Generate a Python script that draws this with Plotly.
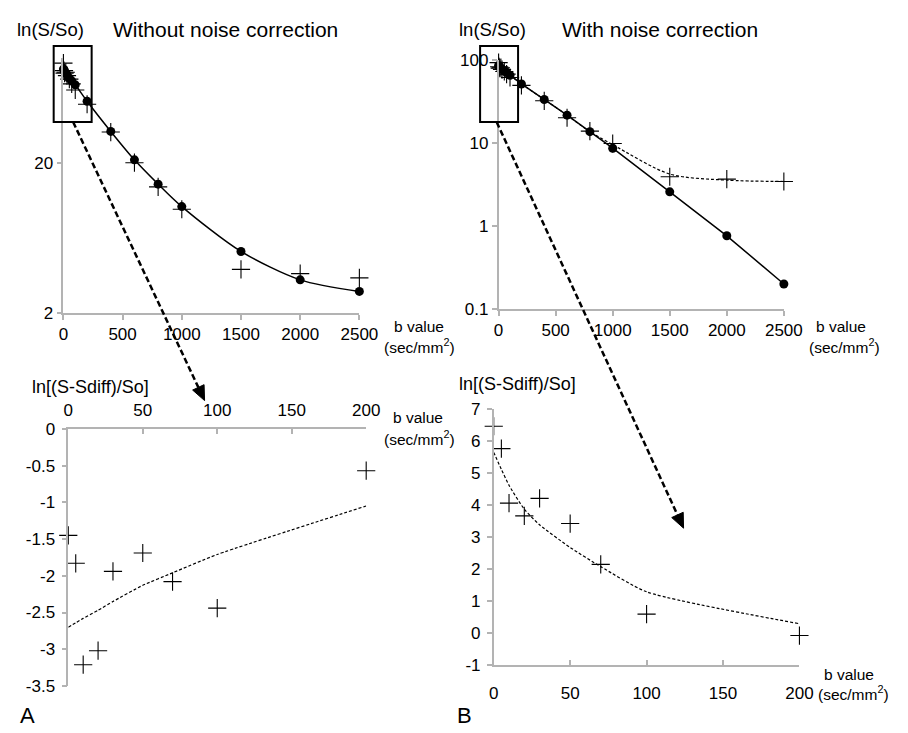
import numpy as np
import plotly.graph_objects as go

W, H = 908, 733

# ---------------- data ----------------
b_top = [0, 5, 10, 20, 30, 50, 70, 100, 200, 400, 600, 800, 1000, 1500, 2000, 2500]
fit_uncorrected = [84, 83, 81, 79, 77, 73, 70, 66, 51.3, 32.3, 20.9, 14.4, 10.2, 5.13, 3.32, 2.78]
fit_corrected = [85, 83, 81, 79, 77, 73, 70, 65, 51, 33.2, 21.5, 13.6, 8.6, 2.57, 0.76, 0.2]
raw_signal = [92, 82, 79, 80, 76, 72, 67, 61, 49, 32, 20, 13.8, 9.8, 3.9, 3.65, 3.42]
fit_noise_model = [85, 83, 81, 79, 77, 73, 70, 65, 51, 33.2, 21.5, 13.6, 9.5, 4.2, 3.55, 3.42]

b_low = [0, 5, 10, 20, 30, 50, 70, 100, 200]
resid_uncorr = [-1.45, -1.83, -3.21, -3.02, -1.94, -1.69, -2.08, -2.44, -0.57]
resid_uncorr_fit = [-2.70, -2.64, -2.58, -2.47, -2.35, -2.13, -1.96, -1.71, -1.05]
resid_corr = [6.47, 5.77, 4.06, 3.66, 4.21, 3.42, 2.14, 0.58, -0.09]
resid_corr_fit = [5.65, 5.12, 4.62, 3.87, 3.38, 2.67, 2.07, 1.28, 0.28]

top_xticks = [0, 500, 1000, 1500, 2000, 2500]
tl_yticks = [2, 20]
tr_yticks = [0.1, 1, 10, 100]
bl_yticks = [0, -0.5, -1, -1.5, -2, -2.5, -3, -3.5]
br_yticks = [-1, 0, 1, 2, 3, 4, 5, 6, 7]
low_xticks = [0, 50, 100, 150, 200]

FONT = "Liberation Sans, Arial, Helvetica, sans-serif"
AX = "#b3b3b3"


def px(x):
    return x / W


def py(y):
    return 1 - y / H


def fmt(v):
    return "%g" % v


fig = go.Figure()

cross = dict(symbol="cross-thin", size=13, color="black", line=dict(width=1.1, color="black"))
dot = dict(symbol="circle", size=9, color="black")

# top-left
fig.add_trace(go.Scatter(x=b_top, y=raw_signal, mode="markers", marker=cross,
                         xaxis="x", yaxis="y", cliponaxis=False))
fig.add_trace(go.Scatter(x=b_top, y=fit_uncorrected, mode="lines+markers", marker=dot,
                         line=dict(color="black", width=1.5, shape="spline", smoothing=0.8),
                         xaxis="x", yaxis="y", cliponaxis=False))
# top-right
fig.add_trace(go.Scatter(x=b_top, y=fit_noise_model, mode="lines",
                         line=dict(color="black", width=1.2, dash="3px,2px", shape="spline", smoothing=0.8),
                         xaxis="x2", yaxis="y2", cliponaxis=False))
fig.add_trace(go.Scatter(x=b_top, y=raw_signal, mode="markers", marker=cross,
                         xaxis="x2", yaxis="y2", cliponaxis=False))
fig.add_trace(go.Scatter(x=b_top, y=fit_corrected, mode="lines+markers", marker=dot,
                         line=dict(color="black", width=1.5),
                         xaxis="x2", yaxis="y2", cliponaxis=False))
# bottom-left
fig.add_trace(go.Scatter(x=b_low, y=resid_uncorr_fit, mode="lines",
                         line=dict(color="black", width=1.2, dash="3px,2px", shape="spline", smoothing=0.5),
                         xaxis="x3", yaxis="y3", cliponaxis=False))
fig.add_trace(go.Scatter(x=b_low, y=resid_uncorr, mode="markers", marker=cross,
                         xaxis="x3", yaxis="y3", cliponaxis=False))
# bottom-right
fig.add_trace(go.Scatter(x=b_low, y=resid_corr_fit, mode="lines",
                         line=dict(color="black", width=1.2, dash="3px,2px", shape="spline", smoothing=0.6),
                         xaxis="x4", yaxis="y4", cliponaxis=False))
fig.add_trace(go.Scatter(x=b_low, y=resid_corr, mode="markers", marker=cross,
                         xaxis="x4", yaxis="y4", cliponaxis=False))

base = dict(showline=True, linecolor=AX, linewidth=1.5, ticks="outside", ticklen=5,
            tickcolor=AX, tickwidth=1.5, showgrid=False, zeroline=False,
            tickfont=dict(size=17, color="black", family=FONT))

fig.update_layout(
    width=W, height=H, margin=dict(l=0, r=0, t=0, b=0),
    paper_bgcolor="white", plot_bgcolor="white", showlegend=False,
    font=dict(family=FONT, color="black"),
    xaxis=dict(base, domain=[px(60), px(364)], anchor="y", range=[0, 2500],
               tickvals=top_xticks, ticktext=[fmt(v) for v in top_xticks]),
    yaxis=dict(base, domain=[py(312), py(50)], anchor="x", type="log",
               range=[np.log10(2), 2], tickvals=tl_yticks, ticktext=[fmt(v) for v in tl_yticks]),
    xaxis2=dict(base, domain=[px(507), px(800)], anchor="y2", range=[0, 2500],
                tickvals=top_xticks, ticktext=[fmt(v) for v in top_xticks]),
    yaxis2=dict(base, domain=[py(308), py(52)], anchor="x2", type="log",
                range=[-1, 2], tickvals=tr_yticks, ticktext=[fmt(v) for v in tr_yticks]),
    xaxis3=dict(base, domain=[px(65), px(371)], anchor="y3", side="top", ticks="inside",
                range=[0, 200], tickvals=low_xticks, ticktext=[fmt(v) for v in low_xticks],
                ticklabelstandoff=4),
    yaxis3=dict(base, domain=[py(695), py(431)], anchor="x3", range=[-3.5, 0],
                tickvals=bl_yticks, ticktext=[fmt(v) for v in bl_yticks], ticklabelstandoff=3),
    xaxis4=dict(base, domain=[px(502), px(816)], anchor="y4", ticks="inside",
                range=[0, 200], tickvals=low_xticks, ticktext=[fmt(v) for v in low_xticks],
                ticklabelstandoff=12),
    yaxis4=dict(base, domain=[py(673), py(411)], anchor="x4", range=[-1, 7],
                tickvals=br_yticks, ticktext=[fmt(v) for v in br_yticks], ticklabelstandoff=3),
)

# ------------- texts -------------
def label(text, x, y, size, xanchor="center"):
    fig.add_annotation(text=text, x=px(x), y=py(y), xref="paper", yref="paper",
                       showarrow=False, xanchor=xanchor, yanchor="middle",
                       font=dict(size=size, color="black", family=FONT))

label("ln(S/So)", 10, 21, 18.5, "left")
label("Without noise correction", 109, 21, 21, "left")
label("ln(S/So)", 464, 21, 18.5, "left")
label("With noise correction", 570, 21, 21, "left")
label("b value", 425, 326, 15.5)
label("(sec/mm<sup>2</sup>)", 426, 346, 15.5)
label("b value", 859, 326, 15.5)
label("(sec/mm<sup>2</sup>)", 862, 346, 15.5)
label("ln[(S-Sdiff)/So]", 26, 388, 18, "left")
label("b value", 424, 419, 15.5)
label("(sec/mm<sup>2</sup>)", 426, 440, 15.5)
label("ln[(S-Sdiff)/So]", 464, 385, 18, "left")
label("b value", 867, 683, 15.5)
label("(sec/mm<sup>2</sup>)", 872, 702, 15.5)
label("A", 13, 725, 22, "left")
label("B", 462, 725, 22, "left")

# ------------- zoom boxes & arrows -------------
for (x0, y0, x1, y1) in [(50, 38, 89, 116), (488, 38, 527, 116)]:
    fig.add_shape(type="rect", xref="paper", yref="paper",
                  x0=px(x0), x1=px(x1), y0=py(y1), y1=py(y0),
                  line=dict(color="black", width=2), layer="above")


def arrow(start, tip, head_len=15, head_w=13):
    s = np.array(start, float)
    t = np.array(tip, float)
    u = (t - s) / np.linalg.norm(t - s)
    n = np.array([-u[1], u[0]])
    basec = t - head_len * u
    fig.add_shape(type="line", xref="paper", yref="paper",
                  x0=px(s[0]), y0=py(s[1]), x1=px(basec[0]), y1=py(basec[1]),
                  line=dict(color="black", width=2.5, dash="6px,3px"), layer="above")
    p1 = basec + n * head_w / 2
    p2 = basec - n * head_w / 2
    path = "M {} {} L {} {} L {} {} Z".format(px(t[0]), py(t[1]), px(p1[0]), py(p1[1]),
                                               px(p2[0]), py(p2[1]))
    fig.add_shape(type="path", xref="paper", yref="paper", path=path,
                  fillcolor="black", line=dict(color="black", width=1), layer="above")


arrow((70, 116), (205, 402))
arrow((505, 116), (697, 533))

fig.write_html("out.html")
